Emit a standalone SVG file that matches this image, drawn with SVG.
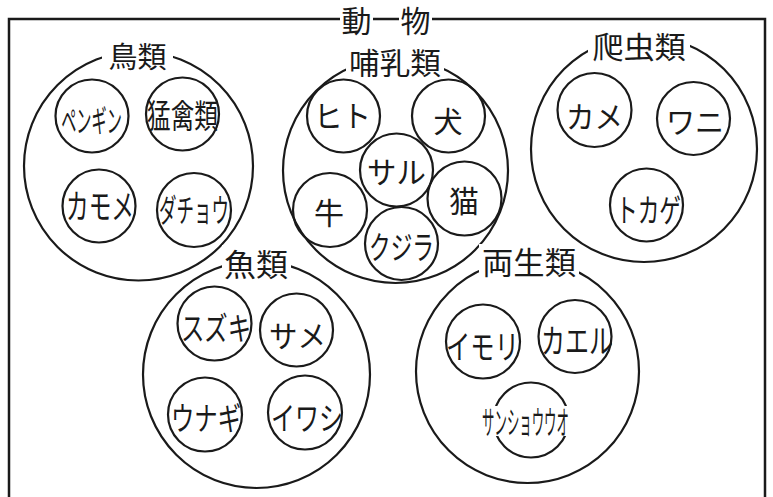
<svg xmlns="http://www.w3.org/2000/svg" width="773" height="497" viewBox="0 0 773 497">
<style>
.frame{fill:none;stroke:#1a1a1a;stroke-width:2.5}
.grp{fill:none;stroke:#1a1a1a;stroke-width:2.2}
.node{fill:none;stroke:#1a1a1a;stroke-width:2.2}
.bg{fill:#ffffff;stroke:none}
text{font-family:"Noto Sans CJK JP","Noto Sans CJK SC",sans-serif;fill:#1a1a1a;text-anchor:middle;dominant-baseline:central}
</style>
<rect width="773" height="497" fill="#ffffff"/>
<g id="frame">
<path class="frame" d="M9,510 V19 H765 V510"/>
<rect class="bg" x="340" y="1" width="33" height="36"/>
<rect class="bg" x="399" y="1" width="33" height="36"/>
<text x="356.5" y="19" font-size="30">動</text>
<text x="415.5" y="19" font-size="30">物</text>
</g>
<g id="connectors"></g>
<g id="birds">
<circle class="grp" cx="138.5" cy="166" r="114.5"/>
<rect class="bg" x="102" y="38" width="71" height="32"/>
<text transform="translate(137.5,55)" font-size="29">鳥類</text>
</g>
<g id="penguin"><circle class="node" cx="92" cy="116" r="36.5"/><text transform="translate(91.5,119) scale(0.49,1)" font-size="31">ペンギン</text></g>
<g id="raptor"><circle class="node" cx="182.5" cy="114" r="36.5"/><text transform="translate(182.5,114) scale(0.717,1)" font-size="33">猛禽類</text></g>
<g id="kamome"><circle class="node" cx="99" cy="206" r="36.5"/><text transform="translate(100,204) scale(0.667,1)" font-size="34">カモメ</text></g>
<g id="dacho"><circle class="node" cx="194" cy="210" r="37"/><text transform="translate(194,208) scale(0.547,1)" font-size="32">ダチョウ</text></g>
<g id="mammals">
<circle class="grp" cx="395.5" cy="170.5" r="112.5"/>
<rect class="bg" x="346" y="44" width="98" height="32"/>
<text transform="translate(395,61) scale(1.02,1)" font-size="30">哺乳類</text>
</g>
<g id="hito"><circle class="node" cx="343.5" cy="116" r="36.5"/><text transform="translate(342.5,114) scale(0.95,1)" font-size="30">ヒト</text></g>
<g id="inu"><circle class="node" cx="448.5" cy="116" r="36.5"/><text transform="translate(448,120)" font-size="29">犬</text></g>
<g id="saru"><circle class="node" cx="396.5" cy="170" r="36.5"/><text transform="translate(396.5,170) scale(0.98,1)" font-size="30">サル</text></g>
<g id="ushi"><circle class="node" cx="330" cy="210" r="37"/><text transform="translate(329,211)" font-size="30">牛</text></g>
<g id="neko"><circle class="node" cx="464.5" cy="198.5" r="37"/><text transform="translate(464,199)" font-size="30">猫</text></g>
<g id="kujira"><circle class="node" cx="401.5" cy="243.5" r="36.5"/><text transform="translate(401.5,245) scale(0.677,1)" font-size="32">クジラ</text></g>
<g id="reptiles">
<circle class="grp" cx="644" cy="149" r="113"/>
<rect class="bg" x="588" y="28" width="102" height="32"/>
<text transform="translate(639,45) scale(1.04,1)" font-size="30">爬虫類</text>
</g>
<g id="kame"><circle class="node" cx="594.5" cy="110" r="37"/><text transform="translate(594.5,115) scale(0.95,1)" font-size="30">カメ</text></g>
<g id="wani"><circle class="node" cx="693.5" cy="118.5" r="36.5"/><text transform="translate(695,120.5) scale(0.97,1)" font-size="30">ワニ</text></g>
<g id="tokage"><circle class="node" cx="646.5" cy="205" r="36.5"/><text transform="translate(648.5,208) scale(0.677,1)" font-size="32">トカゲ</text></g>
<g id="fish">
<circle class="grp" cx="256.5" cy="374.5" r="113.5"/>
<rect class="bg" x="222" y="245" width="69" height="34"/>
<text transform="translate(256,262.5) scale(1.03,1)" font-size="31">魚類</text>
</g>
<g id="suzuki"><circle class="node" cx="214.5" cy="323.5" r="37"/><text transform="translate(216,326) scale(0.73,1)" font-size="32">スズキ</text></g>
<g id="same"><circle class="node" cx="296.5" cy="330" r="36.5"/><text transform="translate(297.5,333.5) scale(0.95,1)" font-size="30">サメ</text></g>
<g id="unagi"><circle class="node" cx="205" cy="414.5" r="37"/><text transform="translate(206,416) scale(0.73,1)" font-size="32">ウナギ</text></g>
<g id="iwashi"><circle class="node" cx="305" cy="412.5" r="37"/><text transform="translate(307,416) scale(0.75,1)" font-size="32">イワシ</text></g>
<g id="amphibians">
<circle class="grp" cx="527.5" cy="371.5" r="111.5"/>
<rect class="bg" x="479" y="244" width="100" height="34"/>
<text transform="translate(529,261) scale(1.01,1)" font-size="31">両生類</text>
</g>
<g id="imori"><circle class="node" cx="483" cy="341.5" r="37"/><text transform="translate(482.5,344) scale(0.737,1)" font-size="33">イモリ</text></g>
<g id="kaeru"><circle class="node" cx="575" cy="336.5" r="36.5"/><text transform="translate(577,338.5) scale(0.727,1)" font-size="33">カエル</text></g>
<g id="sanshouuo"><circle class="node" cx="531" cy="420" r="37.5"/><rect class="bg" x="482" y="406" width="89" height="30"/><text transform="translate(525.5,420.5) scale(0.388,1)" font-size="32">サンショウウオ</text></g>
</svg>
